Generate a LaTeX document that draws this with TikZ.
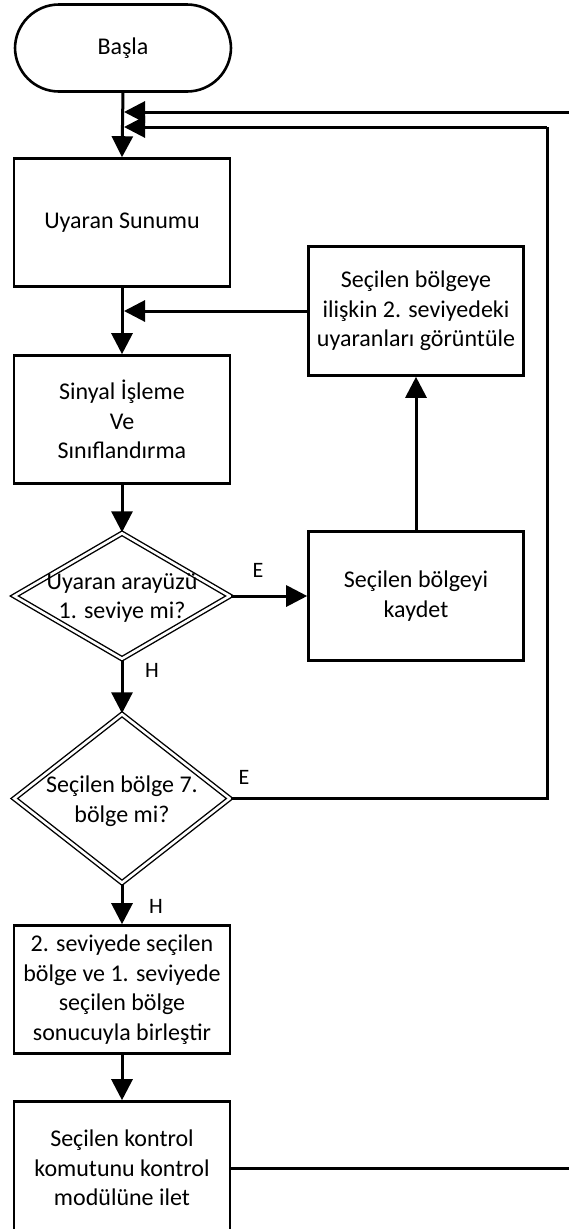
\documentclass[tikz,border=0pt]{standalone}
\usepackage{fontspec}
\setmainfont{Carlito}
\usetikzlibrary{arrows.meta,shapes.geometric}
\begin{document}
\begin{tikzpicture}[x=1pt,y=-1pt,
  box/.style={draw,line width=2.6pt,align=center,inner sep=0pt,font=\fontsize{24}{29.5}\selectfont},
  term/.style={box,rounded corners=44pt},
  dec/.style={diamond,draw,double,double distance=2.6pt,line width=1.4pt,inner sep=0pt},
  lab/.style={font=\fontsize{24}{29.5}\selectfont,align=center},
  yn/.style={font=\fontsize{22}{26}\selectfont},
  arr/.style={line width=3pt,-{Triangle[length=21pt,width=21pt]}},
  ln/.style={line width=3pt}]
\useasboundingbox (0,0) rectangle (569,1229);
\clip (0,0) rectangle (569,1229);
% nodes
\node[term,minimum width=216pt,minimum height=87pt] (start) at (123,48) {Başla};
\node[box,minimum width=216pt,minimum height=128pt] (b1) at (122,222.5) {Uyaran Sunumu};
\node[box,minimum width=215pt,minimum height=129pt] (b2) at (416,311) {Seçilen bölgeye\\ilişkin 2. seviyedeki\\uyaranları görüntüle};
\node[box,minimum width=216pt,minimum height=128pt] (b3) at (122,419.5) {Sinyal İşleme\\Ve\\Sınıflandırma};
\node[dec,minimum width=216pt,minimum height=126pt] (d1) at (122,596) {};
\node[lab] (t1) at (122,598) {Uyaran arayüzü\\1. seviye mi?};
\node[box,minimum width=215pt,minimum height=129pt] (b4) at (416,596) {Seçilen bölgeyi\\kaydet};
\node[dec,minimum width=216pt,minimum height=169pt] (d2) at (122,798.5) {};
\node[lab] (t2) at (122,801) {Seçilen bölge 7.\\bölge mi?};
\node[box,minimum width=216pt,minimum height=128pt] (b5) at (122,989.5) {2. seviyede seçilen\\bölge ve 1. seviyede\\seçilen bölge\\sonucuyla birleştir};
\node[box,minimum width=216pt,minimum height=133pt] (b6) at (122,1168) {Seçilen kontrol\\komutunu kontrol\\modülüne ilet};
% labels
\node[yn] (e1) at (258,570) {E};
\node[yn] (h1) at (152,670) {H};
\node[yn] (e2) at (244,777) {E};
\node[yn] (h2) at (156,906) {H};
% coordinates
\coordinate (j1) at (124,112);
\coordinate (j2) at (124,127);
\coordinate (j3) at (124,311);
\coordinate (o1) at (575,112);
\coordinate (o2) at (575,1168);
\coordinate (c1) at (547,127);
% connectors
\draw[arr] (start.south) -- (b1.north);
\draw[arr] (o1) -- (j1);
\draw[ln] (d2.east) -| (c1);
\draw[arr] (c1) -- (j2);
\draw[arr] (b2.west) -- (j3);
\draw[arr] (b1.south) -- (b3.north);
\draw[arr] (b3.south) -- (d1.north);
\draw[arr] (d1.east) -- (b4.west);
\draw[arr] (b4.north) -- (b2.south);
\draw[arr] (d1.south) -- (d2.north);
\draw[arr] (d2.south) -- (b5.north);
\draw[arr] (b5.south) -- (b6.north);
\draw[ln] (b6.east) -- (o2);
\end{tikzpicture}
\end{document}
